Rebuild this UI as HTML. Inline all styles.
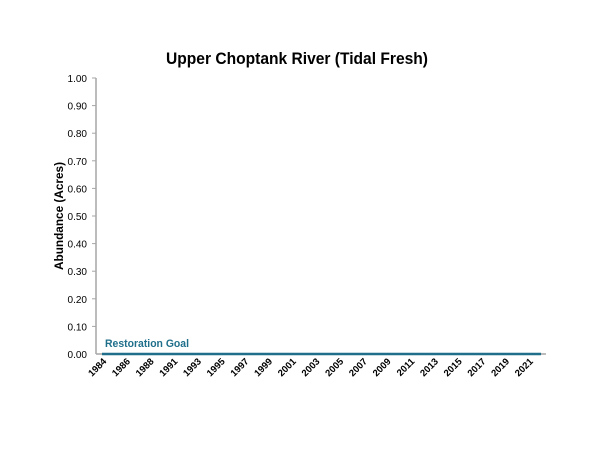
<!DOCTYPE html>
<html><head><style>
body{margin:0;background:#fff;}
svg{display:block;font-family:"Liberation Sans",Calibri,sans-serif;}
</style></head><body>
<svg width="600" height="460" xmlns="http://www.w3.org/2000/svg">
<rect width="600" height="460" fill="#fff"/>
<text x="297" y="64" text-anchor="middle" font-size="17" font-weight="bold" fill="#000" textLength="262" lengthAdjust="spacingAndGlyphs">Upper Choptank River (Tidal Fresh)</text>
<text transform="translate(63,216) rotate(-90)" text-anchor="middle" font-size="12" font-weight="bold" fill="#000" textLength="108" lengthAdjust="spacingAndGlyphs">Abundance (Acres)</text>
<g stroke="#a6a6a6" stroke-width="1.5">
<line x1="96" y1="78" x2="96" y2="354"/>
<line x1="96" y1="354" x2="546" y2="354"/>
</g>
<g stroke="#a6a6a6" stroke-width="1">
<line x1="92" y1="78" x2="96" y2="78"/><line x1="92" y1="105.6" x2="96" y2="105.6"/><line x1="92" y1="133.2" x2="96" y2="133.2"/><line x1="92" y1="160.8" x2="96" y2="160.8"/><line x1="92" y1="188.4" x2="96" y2="188.4"/><line x1="92" y1="216" x2="96" y2="216"/><line x1="92" y1="243.6" x2="96" y2="243.6"/><line x1="92" y1="271.2" x2="96" y2="271.2"/><line x1="92" y1="298.8" x2="96" y2="298.8"/><line x1="92" y1="326.4" x2="96" y2="326.4"/>
</g>
<g font-size="10" text-anchor="end" fill="#000">
<text x="87" y="82">1.00</text><text x="87" y="109.6">0.90</text><text x="87" y="137.2">0.80</text><text x="87" y="164.8">0.70</text><text x="87" y="192.4">0.60</text><text x="87" y="220">0.50</text><text x="87" y="247.6">0.40</text><text x="87" y="275.2">0.30</text><text x="87" y="302.8">0.20</text><text x="87" y="330.4">0.10</text><text x="87" y="358">0.00</text>
</g>
<line x1="102" y1="354" x2="541" y2="354" stroke="#1f6f8b" stroke-width="2.5"/>
<text x="105" y="347" font-size="11" font-weight="bold" fill="#1f6f8b" textLength="84" lengthAdjust="spacingAndGlyphs">Restoration Goal</text>
<g font-size="9.5" font-weight="bold" text-anchor="end" fill="#000">
<text transform="translate(107,362) rotate(-45)">1984</text>
<text transform="translate(130.7,362) rotate(-45)">1986</text>
<text transform="translate(154.4,362) rotate(-45)">1988</text>
<text transform="translate(178.1,362) rotate(-45)">1991</text>
<text transform="translate(201.8,362) rotate(-45)">1993</text>
<text transform="translate(225.5,362) rotate(-45)">1995</text>
<text transform="translate(249.2,362) rotate(-45)">1997</text>
<text transform="translate(272.9,362) rotate(-45)">1999</text>
<text transform="translate(296.6,362) rotate(-45)">2001</text>
<text transform="translate(320.3,362) rotate(-45)">2003</text>
<text transform="translate(344,362) rotate(-45)">2005</text>
<text transform="translate(367.7,362) rotate(-45)">2007</text>
<text transform="translate(391.4,362) rotate(-45)">2009</text>
<text transform="translate(415.1,362) rotate(-45)">2011</text>
<text transform="translate(438.8,362) rotate(-45)">2013</text>
<text transform="translate(462.5,362) rotate(-45)">2015</text>
<text transform="translate(486.2,362) rotate(-45)">2017</text>
<text transform="translate(509.9,362) rotate(-45)">2019</text>
<text transform="translate(533.6,362) rotate(-45)">2021</text>
</g>
</svg>
</body></html>
